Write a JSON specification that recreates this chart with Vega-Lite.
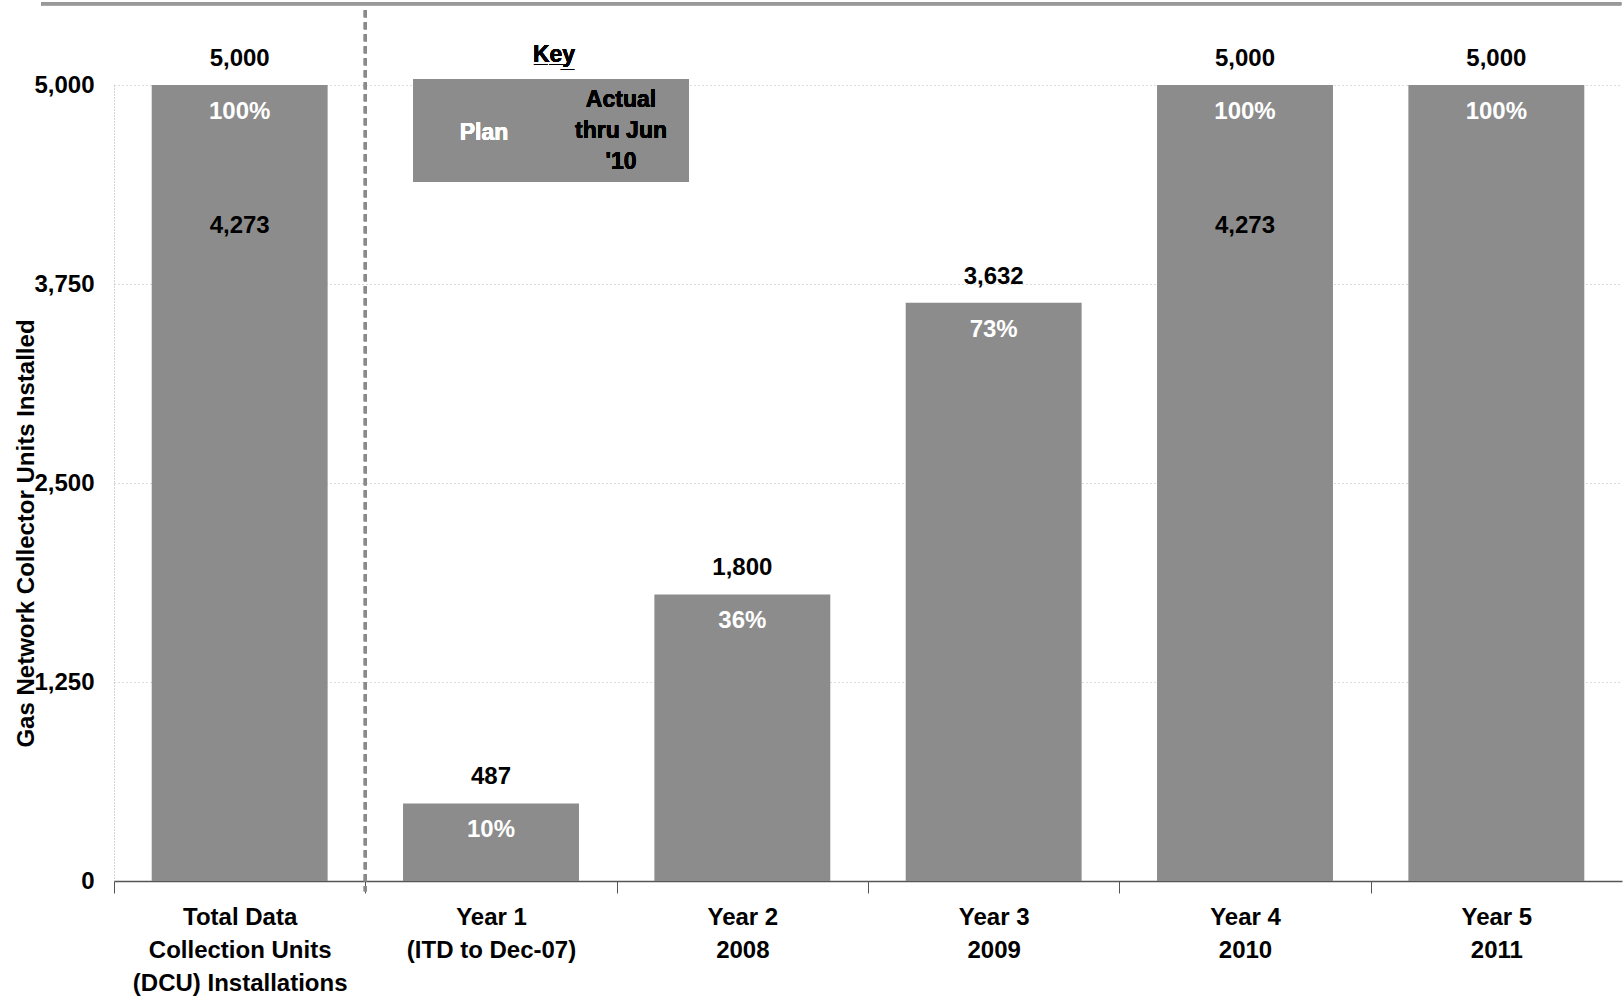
{
  "$schema": "https://vega.github.io/schema/vega-lite/v6.json",
  "width": 1508,
  "height": 796,
  "padding": {"left": 114, "top": 85, "right": 2, "bottom": 119},
  "autosize": {"type": "none"},
  "background": "white",
  "config": {
    "view": {"stroke": null},
    "font": "Liberation Sans",
    "text": {"font": "Liberation Sans", "fontWeight": "bold"}
  },
  "data": {
    "values": [
      {"cat": "Total Data\nCollection Units\n(DCU) Installations", "plan": 5000, "pct": "100%", "actual": 4273},
      {"cat": "Year 1\n(ITD to Dec-07)", "plan": 487, "pct": "10%", "actual": null},
      {"cat": "Year 2\n2008", "plan": 1800, "pct": "36%", "actual": null},
      {"cat": "Year 3\n2009", "plan": 3632, "pct": "73%", "actual": null},
      {"cat": "Year 4\n2010", "plan": 5000, "pct": "100%", "actual": 4273},
      {"cat": "Year 5\n2011", "plan": 5000, "pct": "100%", "actual": null}
    ]
  },
  "encoding": {
    "x": {
      "field": "cat", "type": "nominal", "sort": null,
      "scale": {
        "domain": ["Total Data\nCollection Units\n(DCU) Installations", "Year 1\n(ITD to Dec-07)", "Year 2\n2008", "Year 3\n2009", "Year 4\n2010", "Year 5\n2011"],
        "paddingInner": 0.3, "paddingOuter": 0.15
      },
      "axis": {
        "title": null, "labelAngle": 0, "labelFont": "Liberation Sans", "labelFontWeight": "bold",
        "labelFontSize": 24, "labelColor": "black", "labelLineHeight": 33,
        "labelExpr": "split(datum.label, '\\n')", "labelBaseline": "top", "labelPadding": 12,
        "tickOffset": -125.7, "labelOffset": 125.7, "tickSize": 12, "tickColor": "#555", "domainColor": "#555", "domainWidth": 1.5,
        "labelLimit": 400
      }
    }
  },
  "layer": [
    {
      "mark": {"type": "rule", "color": "#999", "strokeWidth": 3, "clip": false},
      "encoding": {
        "x": {"datum": "Total Data\nCollection Units\n(DCU) Installations", "bandPosition": -0.629},
        "x2": {"datum": "Year 5\n2011", "bandPosition": 1.21},
        "y": {"datum": 5510, "type": "quantitative"}
      }
    },
    {
      "mark": {"type": "bar", "color": "#8c8c8c"},
      "encoding": {
        "y": {
          "field": "plan", "type": "quantitative",
          "scale": {"domain": [0, 5000], "nice": false},
          "axis": {
            "values": [0, 1250, 2500, 3750, 5000], "format": ",.0f",
            "title": "Gas Network Collector Units Installed",
            "titleFont": "Liberation Sans", "titleFontSize": 24, "titleFontWeight": "bold", "titleColor": "black",
            "titleX": -88, "titleY": 448, "titleAngle": -90, "titleAlign": "center", "titleBaseline": "middle",
            "labelFont": "Liberation Sans", "labelFontSize": 24, "labelFontWeight": "bold", "labelColor": "black",
            "labelPadding": 20, "ticks": false,
            "domainColor": "#aaa", "domainDash": [1, 2],
            "grid": true, "gridColor": "#bbb", "gridDash": [1, 3], "gridWidth": 1
          }
        }
      }
    },
    {
      "mark": {"type": "rule", "color": "#8a8a8a", "strokeWidth": 3, "strokeDash": [7, 5], "clip": false},
      "encoding": {
        "x": {"datum": "Year 1\n(ITD to Dec-07)", "bandPosition": -0.2143},
        "y": {"datum": 5470, "type": "quantitative"},
        "y2": {"datum": -65}
      }
    },
    {
      "mark": {"type": "text", "fontSize": 24, "color": "black", "baseline": "middle", "dy": -26},
      "encoding": {"y": {"field": "plan", "type": "quantitative"}, "text": {"field": "plan", "type": "quantitative", "format": ",.0f"}}
    },
    {
      "mark": {"type": "text", "fontSize": 24, "color": "white", "baseline": "middle", "dy": 27},
      "encoding": {"y": {"field": "plan", "type": "quantitative"}, "text": {"field": "pct"}}
    },
    {
      "transform": [{"filter": "datum.actual != null"}],
      "mark": {"type": "text", "fontSize": 24, "color": "black", "baseline": "middle", "dy": 25},
      "encoding": {"y": {"field": "actual", "type": "quantitative"}, "text": {"field": "actual", "type": "quantitative", "format": ",.0f"}}
    },
    {
      "mark": {"type": "bar", "color": "#8c8c8c", "width": 275, "xOffset": 60},
      "encoding": {
        "x": {"datum": "Year 1\n(ITD to Dec-07)"},
        "y": {"datum": 5038, "type": "quantitative"},
        "y2": {"datum": 4391}
      }
    },
    {
      "mark": {"type": "text", "fontSize": 23, "color": "white", "baseline": "middle", "dx": -7},
      "encoding": {
        "x": {"datum": "Year 1\n(ITD to Dec-07)"},
        "y": {"datum": 4699, "type": "quantitative"},
        "text": {"value": "Plan"}
      }
    },
    {
      "mark": {"type": "text", "fontSize": 23, "color": "black", "baseline": "middle", "dx": 130, "lineHeight": 31},
      "encoding": {
        "x": {"datum": "Year 1\n(ITD to Dec-07)"},
        "y": {"datum": 4906, "type": "quantitative"},
        "text": {"value": ["Actual", "thru Jun", "'10"]}
      }
    },
    {
      "mark": {"type": "text", "fontSize": 23, "color": "black", "baseline": "middle", "dx": 63},
      "encoding": {
        "x": {"datum": "Year 1\n(ITD to Dec-07)"},
        "y": {"datum": 5188, "type": "quantitative"},
        "text": {"value": "K̲e̲y̲"}
      }
    }
  ]
}
